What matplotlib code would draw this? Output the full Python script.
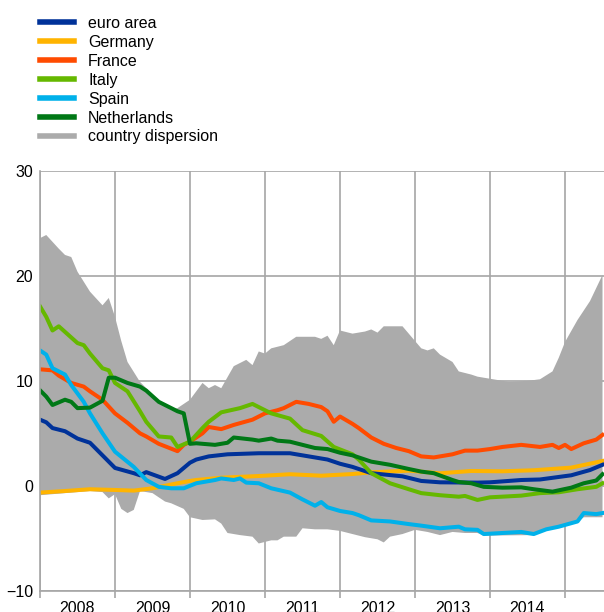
import matplotlib.pyplot as plt
import numpy as np
from matplotlib.lines import Line2D

plt.rcParams['font.family'] = ['Liberation Sans', 'DejaVu Sans']
fontsize = 11.5

# months since January 2008
euro_m = [0, 1, 2, 4, 6, 8, 10, 12, 15, 16, 17, 20, 22, 24, 25, 27, 30, 35, 40, 43, 46, 48, 50, 53, 58, 61, 64, 70, 72, 77, 80, 85, 88, 90]
euro_v = [6.3, 6.05, 5.5, 5.2, 4.5, 4.1, 2.9, 1.7, 1.2, 1.0, 1.3, 0.65, 1.2, 2.2, 2.5, 2.8, 3.0, 3.1, 3.1, 2.8, 2.5, 2.1, 1.8, 1.2, 0.9, 0.46, 0.33, 0.3, 0.33, 0.55, 0.6, 1.0, 1.5, 2.0]

germany_m = [0, 4, 8, 12, 15, 18, 22, 24, 25, 29, 35, 40, 45, 50, 53, 59, 64, 69, 74, 79, 85, 90]
germany_v = [-0.65, -0.5, -0.33, -0.4, -0.46, -0.24, 0.24, 0.46, 0.55, 0.77, 0.93, 1.1, 0.96, 1.12, 1.28, 1.44, 1.19, 1.41, 1.38, 1.48, 1.73, 2.36]

france_m = [0, 2, 3, 5, 7, 8, 10, 12, 14, 16, 17, 19, 22, 23, 24, 26, 27, 29, 31, 34, 36, 38, 39, 41, 43, 45, 46, 47, 48, 50,
            51, 53, 55, 57, 59, 61, 63, 66, 68, 70, 72, 74, 77, 80, 82, 83, 84, 85, 87, 89, 90]
france_v = [11.1, 11.0, 10.5, 9.8, 9.45, 9.0, 8.2, 6.9, 6.0, 5.0, 4.7, 4.0, 3.3, 3.9, 4.2, 5.0, 5.6, 5.4, 5.8, 6.3,
            6.9, 7.2, 7.4, 8.0, 7.8, 7.5, 7.1, 6.1, 6.6, 5.9, 5.5, 4.6, 4.0, 3.6, 3.3, 2.8, 2.7, 3.0, 3.35, 3.35,
            3.5, 3.7, 3.9, 3.7, 3.9, 3.6, 3.9, 3.5, 4.05, 4.4, 4.85]

italy_m = [0, 1, 2, 3, 6, 7, 8, 10, 11, 12, 14, 16, 17, 19, 21, 22, 24, 26, 27, 29, 32, 34, 37, 40, 42, 45, 47, 50, 51, 53,
           56, 59, 61, 64, 67, 68, 70, 72, 77, 80, 83, 86, 89, 90]
italy_v = [17.1, 16.1, 14.8, 15.2, 13.6, 13.4, 12.6, 11.2, 11.0, 9.8, 9.0, 7.1, 6.1, 4.7, 4.6, 3.7, 4.2, 5.5, 6.1, 7.0,
           7.4, 7.8, 6.9, 6.4, 5.3, 4.75, 3.7, 3.0, 2.5, 1.2, 0.24, -0.33, -0.7, -0.9, -1.04, -0.97, -1.35, -1.1, -0.94, -0.7,
           -0.62, -0.33, -0.1, 0.24]

spain_m = [0, 1, 2, 4, 5, 7, 8, 10, 12, 15, 17, 19, 21, 23, 25, 28, 29, 31, 32, 33, 35, 37, 40, 42, 44, 45, 46, 48, 50, 51,
           53, 56, 59, 61, 64, 67, 68, 70, 71, 74, 77, 79, 81, 83, 86, 87, 89, 90]
spain_v = [12.9, 12.5, 11.2, 10.6, 9.6, 8.0, 6.9, 5.0, 3.25, 1.8, 0.55, -0.1, -0.24, -0.24, 0.24, 0.55, 0.7, 0.55, 0.7, 0.3,
           0.24, -0.24, -0.65, -1.3, -1.9, -1.55, -2.05, -2.4, -2.6, -2.8, -3.3, -3.4, -3.65, -3.8, -4.05, -3.9, -4.15, -4.2, -4.6, -4.5,
           -4.4, -4.6, -4.15, -3.9, -3.4, -2.6, -2.7, -2.6]

nl_m = [0, 1, 2, 4, 5, 6, 8, 10, 11, 12, 14, 16, 17, 19, 22, 23, 24, 25, 28, 30, 31, 34, 35, 37, 38, 40, 42, 44, 46, 48,
        50, 51, 53, 56, 59, 61, 63, 66, 67, 69, 71, 74, 77, 79, 82, 85, 87, 89, 90]
nl_v = [9.1, 8.5, 7.7, 8.2, 8.0, 7.4, 7.45, 8.1, 10.3, 10.3, 9.8, 9.45, 9.07, 8.0, 7.1, 6.9, 4.0, 4.05, 3.9, 4.1,
        4.6, 4.4, 4.3, 4.5, 4.3, 4.2, 3.9, 3.6, 3.5, 3.15, 2.9, 2.7, 2.3, 2.0, 1.6, 1.35, 1.2, 0.55, 0.36, 0.24,
        -0.1, -0.18, -0.15, -0.33, -0.56, -0.18, 0.24, 0.5, 1.1]

# country dispersion (max / min)
up_m = [0, 1, 3, 4, 5, 6, 8, 10, 11, 12, 13, 14, 16, 17, 19, 21, 22, 24, 26, 27, 28, 29, 31, 33, 34, 35, 36, 37, 39, 41,
        44, 45, 46, 47, 48, 50, 52, 53, 54, 55, 58, 59, 61, 62, 63, 64, 66, 67, 69, 70, 73, 75, 78, 80, 82, 83, 84, 86, 88, 90]
up_v = [23.6, 23.9, 22.6, 22.0, 21.8, 20.4, 18.5, 17.2, 17.9, 16.1, 13.8, 11.8, 9.9, 9.3, 8.0, 7.2, 7.4, 8.2, 9.8, 9.3,
        9.6, 9.3, 11.4, 12.0, 11.5, 12.8, 12.6, 13.1, 13.4, 14.2, 14.2, 14.0, 14.3, 13.4, 14.8, 14.5, 14.7, 14.9, 14.6, 15.2,
        15.2, 14.5, 13.1, 12.9, 13.1, 12.5, 11.8, 10.9, 10.6, 10.4, 10.1, 9.9, 10.0, 10.15, 10.9, 12.2, 13.7, 15.8, 17.6, 20.1]
lo_m = [0, 4, 8, 10, 11, 12, 13, 14, 15, 16, 18, 20, 21, 23, 24, 26, 28, 29, 30, 32, 34, 35, 37, 38, 39, 41, 42, 44, 46, 48,
        50, 52, 54, 55, 56, 58, 60, 62, 64, 66, 68, 70, 71, 79, 81, 83, 86, 87, 90]
lo_v = [-0.9, -0.7, -0.5, -0.6, -1.2, -0.8, -2.2, -2.6, -2.3, -0.5, -0.7, -1.5, -1.67, -2.2, -3.0, -3.26, -3.2, -3.6, -4.5, -4.7,
        -4.85, -5.5, -5.2, -5.2, -4.85, -4.85, -4.05, -4.15, -4.15, -4.3, -4.6, -4.9, -5.1, -5.4, -4.85, -4.6, -4.2, -4.4, -4.7, -4.4,
        -4.5, -4.5, -4.75, -4.7, -4.2, -3.8, -3.45, -3.0, -3.0]

years = ["2008", "2009", "2010", "2011", "2012", "2013", "2014"]

c_euro = "#003299"
c_de = "#FFB400"
c_fr = "#FF4B00"
c_it = "#65B800"
c_es = "#00B1EA"
c_nl = "#007816"
c_band = "#ABABAB"
c_grid = "#A6A6A6"
lw = 2.9

fig = plt.figure(figsize=(6.04, 6.12), dpi=100)
ax = fig.add_axes([40 / 604, 21.3 / 612, 1 - 40 / 604, (590.7 - 171) / 612])

ax.fill(np.concatenate([up_m, lo_m[::-1]]), np.concatenate([up_v, lo_v[::-1]]),
        color=c_band, linewidth=0, zorder=1)
ax.plot(germany_m, germany_v, color=c_de, lw=lw, zorder=2)
ax.plot(euro_m, euro_v, color=c_euro, lw=lw, zorder=2)
ax.plot(france_m, france_v, color=c_fr, lw=lw, zorder=2)
ax.plot(italy_m, italy_v, color=c_it, lw=lw, zorder=2)
ax.plot(spain_m, spain_v, color=c_es, lw=lw, zorder=2)
ax.plot(nl_m, nl_v, color=c_nl, lw=lw, zorder=2)

ax.set_xlim(0, 90.24)
ax.set_ylim(-10, 30)
ax.set_xticks(np.arange(0, 85, 12))
ax.set_xticklabels([])
ax.set_xticks(np.arange(6, 6 + 12 * len(years), 12), minor=True)
ax.set_xticklabels(years, minor=True)
ax.set_yticks([-10, 0, 10, 20, 30])
ax.tick_params(axis='x', which='major', length=5, color=c_grid, width=1.2)
ax.tick_params(axis='x', which='minor', length=0, pad=7.5, labelsize=fontsize)
ax.tick_params(axis='y', length=0, pad=5, labelsize=fontsize)
ax.set_axisbelow(True)
ax.grid(True, which='major', color=c_grid, linewidth=1.2, zorder=0)
for s in ['top', 'right']:
    ax.spines[s].set_visible(False)
for s in ['left', 'bottom']:
    ax.spines[s].set_color(c_grid)
    ax.spines[s].set_linewidth(1.2)

handles = [Line2D([], [], color=c, lw=4) for c in [c_euro, c_de, c_fr, c_it, c_es, c_nl, c_band]]
labels = ["euro area", "Germany", "France", "Italy", "Spain", "Netherlands", "country dispersion"]
fig.legend(handles, labels, loc="upper left", bbox_to_anchor=(40 / 604, 1 - 16 / 612),
           frameon=False, fontsize=fontsize, handlelength=2.13, handletextpad=0.88,
           labelspacing=0.245, borderpad=0, borderaxespad=0)

plt.savefig("out.png", dpi=100)
